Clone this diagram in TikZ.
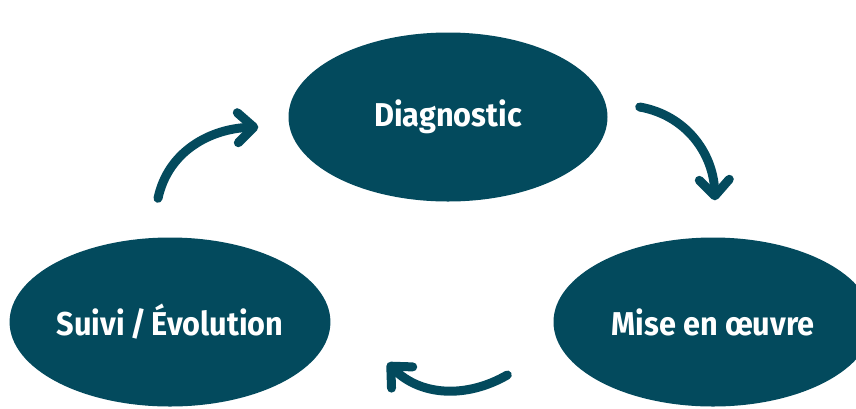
\documentclass[tikz,border=0pt]{standalone}
\usepackage{fontspec}
\setmainfont{Fira Sans}[FakeStretch=0.93]
\usetikzlibrary{shapes,arrows.meta,positioning,calc}
\definecolor{petrol}{RGB}{3,74,93}
\tikzset{
  phase/.style={ellipse,fill=petrol,text=white,minimum width=319pt,minimum height=169pt,inner sep=0pt,
    font=\fontsize{33}{38}\selectfont\bfseries},
  cycle/.style={draw=petrol,line width=9pt,line cap=round,
    -{Straight Barb[round,length=16pt,width=30pt]}}
}
\begin{document}
\begin{tikzpicture}[x=1pt,y=1pt]
\useasboundingbox (0,0) rectangle (856,-408);
\clip (0,0) rectangle (856,-408);
\node[phase] (diag) at (448,-117) {Diagnostic};
\node[phase] (suivi) at (170,-322) {Suivi\,/\,Évolution};
\node[phase] (mise) at (713,-322) {Mise en œuvre};
% free ends of the arrows
\coordinate (a1s) at ($(suivi.north)+(-12,39)$);
\coordinate (a1e) at ($(diag.west)+(-30,-10)$);
\coordinate (a2s) at ($(diag.east)+(32,10)$);
\coordinate (a2e) at ($(mise.north)+(2,37)$);
\coordinate (a3s) at ($(mise.west)+(-46,-53)$);
\coordinate (a3e) at ($(suivi.east)+(57,-41)$);
\draw[cycle] (a1s) to[out=78,in=182] (a1e);
\draw[cycle] (a2s) to[out=-10,in=92] (a2e);
\draw[cycle] (a3s) to[out=-150,in=-45] (a3e);
\end{tikzpicture}
\end{document}
